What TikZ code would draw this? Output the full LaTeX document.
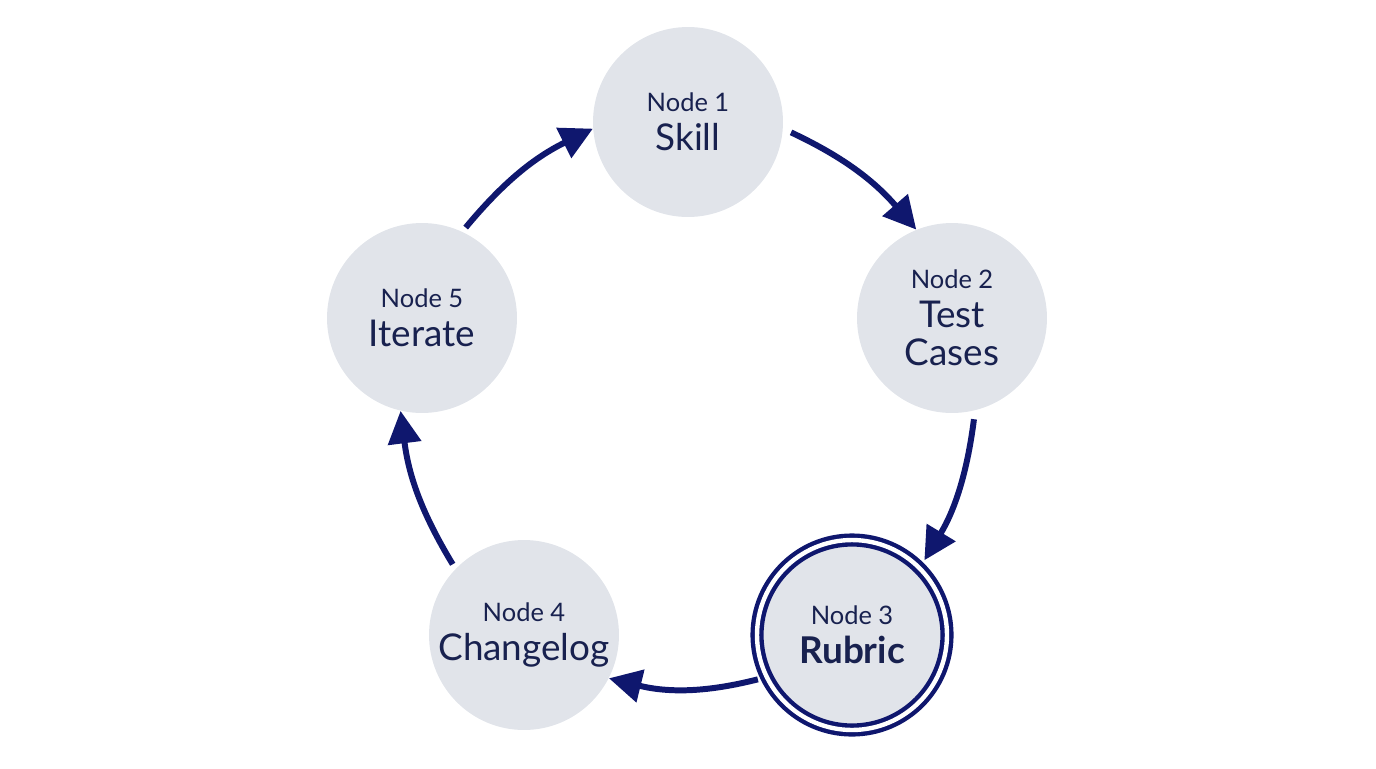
\documentclass[tikz,border=0pt]{standalone}
\usepackage{fontspec}
\setmainfont{Lato}
\usetikzlibrary{arrows.meta}
\definecolor{navy}{HTML}{0F176E}
\definecolor{ink}{HTML}{18214F}
\definecolor{disc}{HTML}{E1E4EA}
\tikzset{
  stage/.style={circle, fill=disc, minimum size=3.8cm, inner sep=0pt, align=center, text=ink, font=\fontsize{14.5}{22}\selectfont},
  flow/.style={draw=navy, line width=3.4pt, -{Triangle[length=0.65cm,width=0.65cm]}},
}
\newcommand{\steptitle}[1]{{\fontsize{21}{22}\selectfont #1}}
\begin{document}
\begin{tikzpicture}[x=0.02cm, y=-0.02cm]
		\useasboundingbox (0,0) rectangle (1376,768);
		
		%nodi
		\node[stage] (n1) at (688,122) {Node 1\\\steptitle{Skill}};
		\node[stage] (n2) at (952,318) {Node 2\\\steptitle{Test}\\\steptitle{Cases}};
		\node[stage, draw=navy, line width=2.5pt, double=white, double distance=2.5pt] (n3) at (852,635) {Node 3\\\steptitle{\bfseries Rubric}};
		\node[stage] (n4) at (524,635) {Node 4\\\steptitle{Changelog}};
		\node[stage] (n5) at (422,318) {Node 5\\\steptitle{Iterate}};
		
		%frecce
		\draw[flow, shorten <=5pt] (n1.-4) to[bend left=12] (n2.112);
		\draw[flow, shorten <=5pt, shorten >=4pt] (n2.-76) to[bend left=12] (n3.45);
		\draw[flow, shorten <=4pt] (n3.206) to[bend left=14] (n4.-27);
		\draw[flow, shorten <=3pt] (n4.136) to[bend left=12] (n5.257);
		\draw[flow, shorten <=3pt] (n5.65) to[bend left=12] (n1.184);
		
	\end{tikzpicture}
\end{document}
